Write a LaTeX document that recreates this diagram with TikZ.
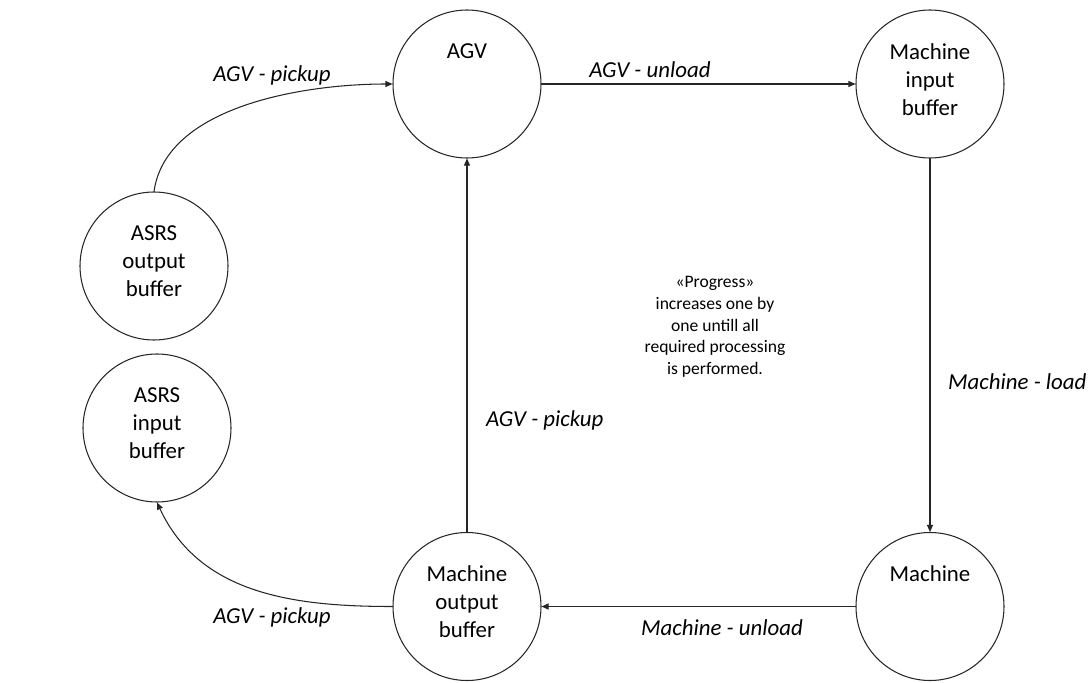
\documentclass[tikz,border=0pt]{standalone}
\usepackage{fontspec}
\setmainfont{Carlito}
\usepackage{tikz}
\usetikzlibrary{positioning}
\usetikzlibrary{calc}
\usetikzlibrary{arrows.meta}

\tikzset{
  statecirc/.style={circle,draw=black!85,line width=0.6pt,minimum size=2.96cm,inner sep=0pt},
  stname/.style={anchor=north,yshift=-0.67cm,inner sep=0pt,align=center,font=\fontsize{13}{15.9}\selectfont},
  edgelbl/.style={font=\fontsize{13}{15.9}\selectfont\itshape},
  notetext/.style={align=center,font=\fontsize{10}{12.35}\selectfont}
}

\begin{document}
\begin{tikzpicture}[line cap=round,line join=round,>={Triangle[length=1.4mm,width=1.2mm]}]
\useasboundingbox (0,0) rectangle (21.84,13.64);
% states
\node[statecirc,label={[stname]north:AGV}] (agv) at (9.34,11.96) {};
\node[statecirc,label={[stname]north:Machine\\input\\buffer}] (mib) at (18.60,11.96) {};
\node[statecirc,label={[stname]north:ASRS\\output\\buffer}] (asrsout) at (3.08,8.32) {};
\node[statecirc,label={[stname]north:ASRS\\input\\buffer}] (asrsin) at (3.14,5.08) {};
\node[statecirc,label={[stname]north:Machine\\output\\buffer}] (mob) at (9.34,1.51) {};
\node[statecirc,label={[stname]north:Machine}] (mach) at (18.60,1.51) {};
% transitions
\draw[->,line width=0.6pt,draw=black!85] (asrsout.north) to[out=82,in=180,looseness=0.85] (agv.west);
\draw[->,line width=0.6pt,draw=black!85] (agv.east) -- (mib.west);
\draw[->,line width=0.6pt,draw=black!85] (mib.south) -- (mach.north);
\draw[->,line width=0.6pt,draw=black!85] (mach.west) -- (mob.east);
\draw[->,line width=0.6pt,draw=black!85] (mob.north) -- (agv.south);
\draw[->,line width=0.6pt,draw=black!85] (mob.west) to[out=180,in=-65] (asrsin.south);
% labels
\node[edgelbl] (lblpick1) at (5.44,12.14) {AGV - pickup};
\node[edgelbl] (lblunload) at (13.0,12.24) {AGV - unload};
\node[edgelbl,anchor=west] (lblload) at (18.84,6.0) {Machine - load};
\node[edgelbl,anchor=west] (lblpick2) at (9.60,5.24) {AGV - pickup};
\node[edgelbl] (lblmunload) at (14.44,1.08) {Machine - unload};
\node[edgelbl] (lblpick3) at (5.44,1.30) {AGV - pickup};
\node[notetext] (note) at (14.30,7.10) {«Progress»\\increases one by\\one untill all\\required processing\\is performed.};
\end{tikzpicture}
\end{document}
